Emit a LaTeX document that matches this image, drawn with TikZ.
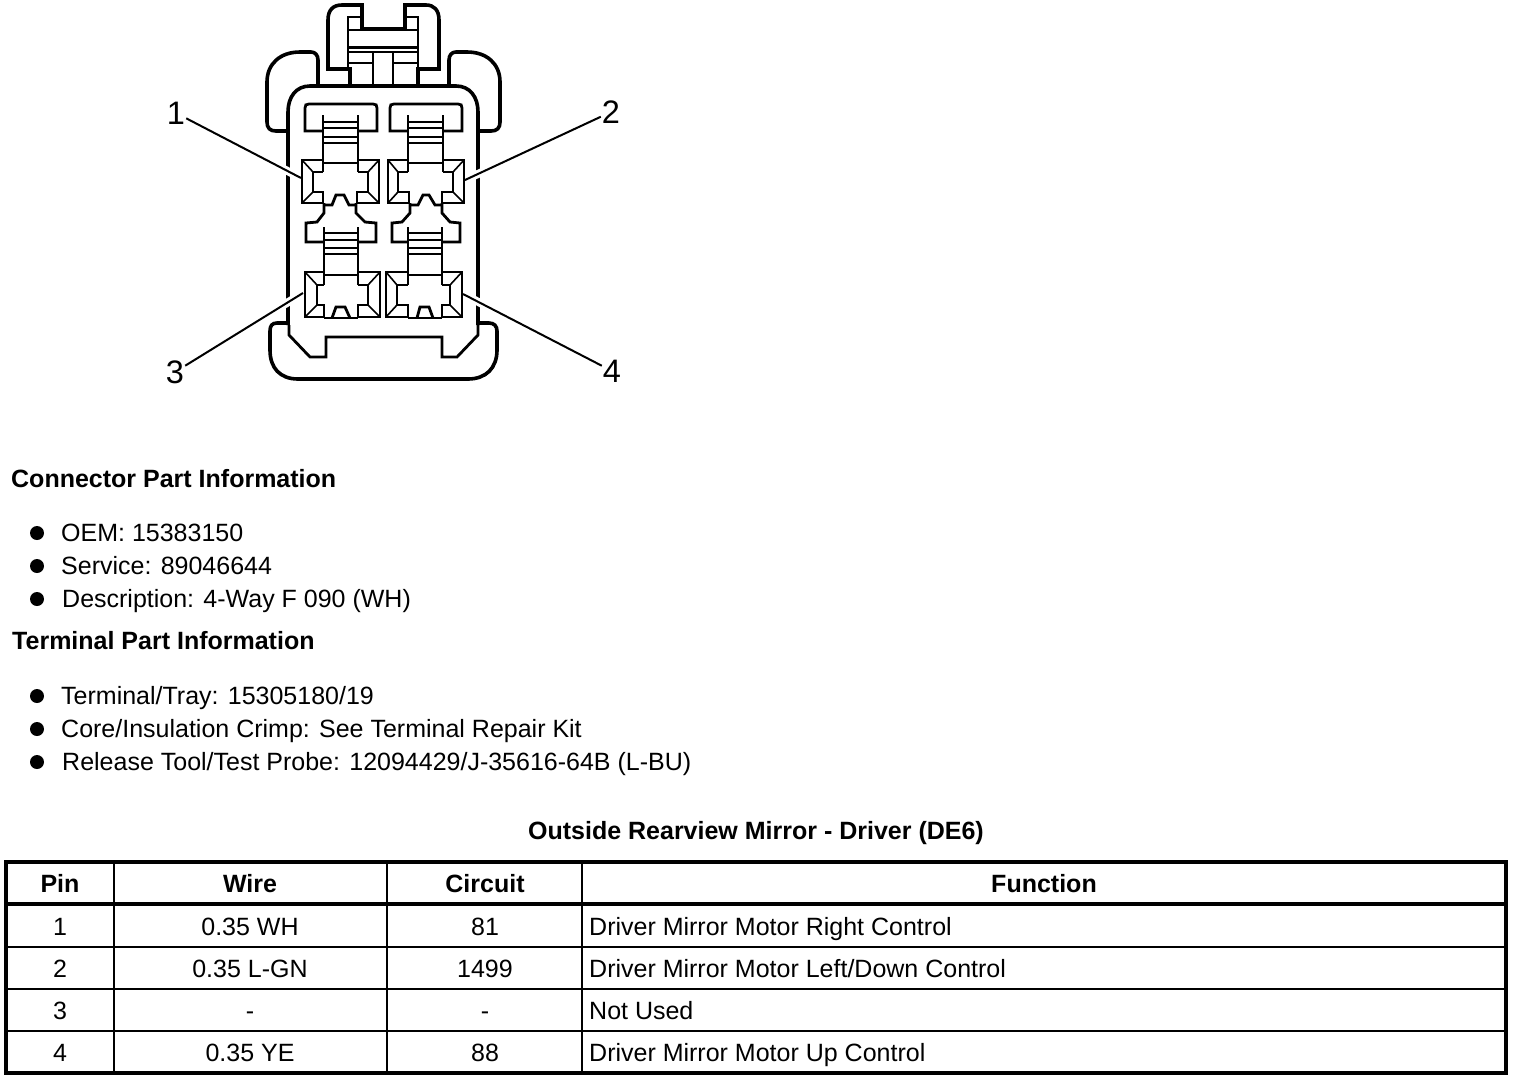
\documentclass[tikz,border=0pt]{standalone}
\usepackage{fontspec}
\setmainfont{Liberation Sans}
\tikzset{
  x=1pt,y=-1pt,
  thickline/.style={line width=3.6pt,line join=miter},
  midline/.style={line width=2.8pt,line join=miter},
  thinline/.style={line width=1.6pt},
  leader/.style={line width=2pt,preaction={draw=white,line width=8pt}},
  callout/.style={inner sep=1pt,font=\fontsize{32.5}{33}\selectfont},
  txt/.style={inner sep=0pt,anchor=base west,font=\fontsize{25}{26}\selectfont},
  head/.style={inner sep=0pt,anchor=base west,font=\fontsize{25}{26}\selectfont\bfseries},
  cellc/.style={inner sep=0pt,anchor=base,font=\fontsize{25}{26}\selectfont},
  cellh/.style={inner sep=0pt,anchor=base,font=\fontsize{25}{26}\selectfont\bfseries},
  bullet/.style={circle,fill=black,inner sep=0pt,minimum size=14pt},
}
\begin{document}
\begin{tikzpicture}
\path[use as bounding box,fill=white] (0,0) rectangle (1520,1080);

% --- connector housing ---
\draw[thickline] (350,86) -- (350,69) -- (328,69) -- (328,20) .. controls (328,10) and (333,5) .. (342,5) -- (362,5) -- (362,29) -- (405,29) -- (405,5) -- (426,5) .. controls (434,5) and (439,10) .. (439,20) -- (439,69) -- (418,69) -- (418,86);
\draw[midline] (348,69) -- (348,17) -- (361,17) (418,69) -- (418,17) -- (405,17);
\draw[midline] (348,30) -- (418,30);
\draw[midline] (348,47.5) -- (418,47.5);
\draw[thinline] (348,52) -- (418,52);
\draw[midline] (348,63) -- (373,63) (393,63) -- (418,63);
\draw[midline] (373,52) -- (373,86) (393,52) -- (393,86);
\draw[thickline] (318,86) -- (318,60) .. controls (318,55) and (315,52) .. (311,52) -- (300,52) .. controls (280,52) and (267,64) .. (267,82) -- (267,122) .. controls (267,128) and (270,131) .. (276,131) -- (289,131);
\draw[thickline] (449,86) -- (449,60) .. controls (449,55) and (452,52) .. (456,52) -- (467,52) .. controls (487,52) and (500,64) .. (500,82) -- (500,122) .. controls (500,128) and (497,131) .. (491,131) -- (478,131);
\draw[thickline] (288,325) -- (288,112) .. controls (288,97) and (296,86) .. (310,86) -- (456,86) .. controls (470,86) and (478,97) .. (478,112) -- (478,325);
\draw[thickline] (288,323) -- (277,323) .. controls (272,323) and (270,326) .. (270,331) -- (270,350) .. controls (270,368) and (280,379) .. (298,379) -- (468,379) .. controls (486,379) and (497,368) .. (497,350) -- (497,331) .. controls (497,326) and (494,323) .. (489,323) -- (478,323);
\draw[midline] (289,325) -- (289,335) -- (310,357) -- (326,357) -- (326,337) -- (442,337) -- (442,357) -- (457,357) -- (478,335) -- (478,325);

% --- callouts ---
\node[callout] (n1) at (176,113) {1};
\node[callout] (n2) at (611,112) {2};
\node[callout] (n3) at (175,372) {3};
\node[callout] (n4) at (612,371) {4};
\coordinate (t1) at (301,178);
\coordinate (t2) at (465,180);
\coordinate (t3) at (303,293);
\coordinate (t4) at (463,294);
\draw[leader] (n1) -- (t1);
\draw[leader] (n2) -- (t2);
\draw[leader] (n3) -- (t3);
\draw[leader] (n4) -- (t4);

% --- upper tabs and stems ---
\draw[midline] (323,131) -- (305,131) -- (305,108) .. controls (305,105) and (306,104) .. (309,104) -- (373,104) .. controls (376,104) and (377,105) .. (377,108) -- (377,131) -- (358,131);
\draw[midline] (408,131) -- (390,131) -- (390,108) .. controls (390,105) and (391,104) .. (394,104) -- (458,104) .. controls (461,104) and (462,105) .. (462,108) -- (462,131) -- (443,131);
\draw[midline] (323,115) -- (323,163) (358,115) -- (358,163) (408,115) -- (408,163) (443,115) -- (443,163);
\foreach \yy in {122,128,137,143} {
  \draw[midline] (323,\yy) -- (358,\yy) (408,\yy) -- (443,\yy);
}

% --- terminal 1 ---
\draw[midline] (323,172) -- (323,160) -- (302,160) -- (302,203) -- (323,203) -- (323,192) -- (313,192) -- (313,172) -- (323,172);
\draw[midline] (358,172) -- (358,160) -- (379,160) -- (379,203) -- (357,203) -- (357,192) -- (368,192) -- (368,172) -- (358,172);
\draw[midline] (323,163) -- (358,163);
\draw[thinline] (302,160) -- (313,172) (379,160) -- (368,172) (302,203) -- (313,192) (379,203) -- (368,192);
\draw[midline] (324,203) -- (324,213) -- (317,222) -- (306,223) -- (306,242) -- (324,242);
\draw[midline] (356,203) -- (356,213) -- (365,222) -- (376,223) -- (376,242) -- (358,242);
\draw[midline] (324,205) -- (332,205) -- (336,195) -- (344,195) -- (349,205) -- (356,205);

% --- terminal 2 ---
\draw[midline] (408,172) -- (408,160) -- (388,160) -- (388,203) -- (409,203) -- (409,192) -- (398,192) -- (398,172) -- (408,172);
\draw[midline] (443,172) -- (443,160) -- (464,160) -- (464,203) -- (442,203) -- (442,192) -- (453,192) -- (453,172) -- (443,172);
\draw[midline] (408,163) -- (443,163);
\draw[thinline] (388,160) -- (398,172) (464,160) -- (453,172) (388,203) -- (398,192) (464,203) -- (453,192);
\draw[midline] (410,203) -- (410,213) -- (402,222) -- (392,223) -- (392,242) -- (408,242);
\draw[midline] (442,203) -- (442,213) -- (450,222) -- (460,223) -- (460,242) -- (442,242);
\draw[midline] (410,205) -- (418,205) -- (423,195) -- (429,195) -- (435,205) -- (442,205);

% --- lower stems ---
\draw[midline] (324,227) -- (324,272) (358,227) -- (358,272) (408,227) -- (408,272) (442,227) -- (442,272);
\foreach \yy in {233,240,254} {
  \draw[midline] (324,\yy) -- (358,\yy) (408,\yy) -- (442,\yy);
}
\draw[thinline] (324,248) -- (358,248) (408,248) -- (442,248);

% --- terminal 3 ---
\draw[midline] (324,285) -- (324,272) -- (305,272) -- (305,317) -- (324,317) -- (324,305) -- (317,305) -- (317,285) -- (324,285);
\draw[midline] (358,285) -- (358,272) -- (380,272) -- (380,317) -- (358,317) -- (358,305) -- (368,305) -- (368,285) -- (358,285);
\draw[midline] (324,275) -- (358,275);
\draw[midline] (324,318) -- (358,318);
\draw[thinline] (305,272) -- (317,285) (380,272) -- (368,285) (305,317) -- (317,305) (380,317) -- (368,305);
\draw[midline] (332,318) -- (336,307) -- (345,307) -- (350,318);

% --- terminal 4 ---
\draw[midline] (408,285) -- (408,272) -- (386,272) -- (386,317) -- (408,317) -- (408,305) -- (397,305) -- (397,285) -- (408,285);
\draw[midline] (442,285) -- (442,272) -- (462,272) -- (462,317) -- (442,317) -- (442,305) -- (450,305) (450,285) -- (442,285);
\draw[thinline] (450,285) -- (450,305);
\draw[midline] (408,275) -- (442,275);
\draw[midline] (408,318) -- (442,318);
\draw[thinline] (386,272) -- (397,285) (462,272) -- (450,285) (386,317) -- (397,305) (462,317) -- (450,305);
\draw[midline] (417,318) -- (420,307) -- (429,307) -- (433,318);

% --- part information ---
\node[head] (h1) at (11,487) {Connector Part Information};
\node[bullet] (b1) at (37,533) {};
\node[bullet] (b2) at (37,566) {};
\node[bullet] (b3) at (37,599) {};
\node[txt] (l1) at (61,541) {OEM: 15383150};
\node[txt] (l2) at (61,574) {Service: 89046644};
\node[txt] (l3) at (62,607) {Description: 4-Way F 090 (WH)};
\node[head] (h2) at (12,649) {Terminal Part Information};
\node[bullet] (b4) at (37,696) {};
\node[bullet] (b5) at (37,729) {};
\node[bullet] (b6) at (37,762) {};
\node[txt] (l4) at (61,704) {Terminal/Tray: 15305180/19};
\node[txt] (l5) at (61,737) {Core/Insulation Crimp: See Terminal Repair Kit};
\node[txt] (l6) at (62,770) {Release Tool/Test Probe: 12094429/J-35616-64B (L-BU)};

% --- table ---
\node[cellh] (title) at (756,839) {Outside Rearview Mirror - Driver (DE6)};
\draw[line width=3.6pt] (6,862) rectangle (1506,1073);
\draw[line width=3.6pt] (6,904) -- (1506,904);
\draw[line width=1.8pt] (6,947) -- (1506,947);
\draw[line width=1.8pt] (6,989) -- (1506,989);
\draw[line width=2.8pt] (6,1031) -- (1506,1031);
\draw[line width=1.6pt] (114,862) -- (114,1073) (387,862) -- (387,1073) (582,862) -- (582,1073);

\node[cellh] (c11) at (60,892) {Pin};
\node[cellh] (c12) at (250,892) {Wire};
\node[cellh] (c13) at (485,892) {Circuit};
\node[cellh] (c14) at (1044,892) {Function};

\node[cellc] (c21) at (60,935) {1};
\node[cellc] (c22) at (250,935) {0.35 WH};
\node[cellc] (c23) at (485,935) {81};
\node[txt] (c24) at (589,935) {Driver Mirror Motor Right Control};

\node[cellc] (c31) at (60,977) {2};
\node[cellc] (c32) at (250,977) {0.35 L-GN};
\node[cellc] (c33) at (485,977) {1499};
\node[txt] (c34) at (589,977) {Driver Mirror Motor Left/Down Control};

\node[cellc] (c41) at (60,1019) {3};
\node[cellc] (c42) at (250,1019) {-};
\node[cellc] (c43) at (485,1019) {-};
\node[txt] (c44) at (589,1019) {Not Used};

\node[cellc] (c51) at (60,1061) {4};
\node[cellc] (c52) at (250,1061) {0.35 YE};
\node[cellc] (c53) at (485,1061) {88};
\node[txt] (c54) at (589,1061) {Driver Mirror Motor Up Control};
\end{tikzpicture}
\end{document}
